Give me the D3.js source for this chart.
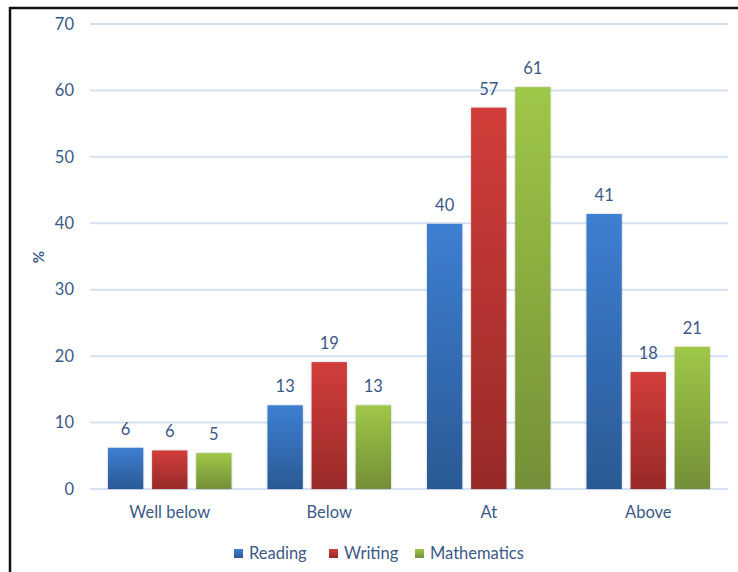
<!DOCTYPE html>
<html>
<head>
<meta charset="utf-8">
<script src="https://cdn.jsdelivr.net/npm/d3@7"></script>
<style>
  html, body { margin: 0; padding: 0; background: #fff; }
  svg { display: block; }
</style>
</head>
<body>
<svg id="chart" width="738" height="572"></svg>
<script>
// Achievement bands and the share of students (%) in each, by subject
const categories = ["Well below", "Below", "At", "Above"];
const series = ["Reading", "Writing", "Mathematics"];
const reading = [6.2, 12.6, 39.9, 41.4];
const writing = [5.8, 19.1, 57.4, 17.6];
const mathematics = [5.4, 12.6, 60.5, 21.4];
const yTicks = [0, 10, 20, 30, 40, 50, 60, 70];

const values = [reading, writing, mathematics];
const colors = {
  Reading: ["#3d7fd2", "#2b5994"],
  Writing: ["#d23d3a", "#982a28"],
  Mathematics: ["#9fc747", "#738f37"]
};
const textColor = "#3a5a86";
const font = "Lato, 'Open Sans', sans-serif";
const fontSize = "16.5px";

const svg = d3.select("#chart");
const defs = svg.append("defs");
series.forEach((s, i) => {
  const g = defs.append("linearGradient")
    .attr("id", "grad" + i).attr("x1", 0).attr("y1", 0).attr("x2", 0).attr("y2", 1);
  g.append("stop").attr("offset", "0%").attr("stop-color", colors[s][0]);
  g.append("stop").attr("offset", "100%").attr("stop-color", colors[s][1]);
});
const shadow = defs.append("filter").attr("id", "shadow")
  .attr("x", "-20%").attr("y", "-5%").attr("width", "140%").attr("height", "110%");
shadow.append("feDropShadow").attr("dx", 0).attr("dy", 0).attr("stdDeviation", 1.2)
  .attr("flood-color", "#000").attr("flood-opacity", 0.25);

// outer frame
svg.append("path")
  .attr("d", "M10,572 V8 H738")
  .attr("fill", "none").attr("stroke", "#111").attr("stroke-width", 2.5);

const plot = { left: 90, right: 728, top: 24, bottom: 489 };

const x = d3.scaleBand().domain(categories).range([plot.left, plot.right]).paddingInner(0).paddingOuter(0);
const y = d3.scaleLinear().domain([0, 70]).range([plot.bottom, plot.top]);
const xs = d3.scaleBand().domain(series).range([18, x.bandwidth() - 18]).paddingInner(0.2);

// gridlines
svg.append("g").selectAll("line").data(yTicks).join("line")
  .attr("x1", plot.left).attr("x2", plot.right)
  .attr("y1", d => y(d)).attr("y2", d => y(d))
  .attr("stroke", "#d5e2f2").attr("stroke-width", 2);

// y axis labels
const yAxis = svg.append("g")
  .attr("transform", `translate(${plot.left},0)`)
  .call(d3.axisLeft(y).tickValues(yTicks).tickSize(0).tickPadding(16));
yAxis.select(".domain").remove();
yAxis.selectAll("text").attr("fill", textColor).style("font-family", font).style("font-size", fontSize);

svg.append("text")
  .attr("transform", "translate(44,257) rotate(-90)")
  .attr("text-anchor", "middle")
  .attr("fill", textColor).style("font-family", font).style("font-size", "15px").style("font-weight", "bold")
  .text("%");

// x axis labels
const xAxis = svg.append("g")
  .attr("transform", `translate(0,${plot.bottom})`)
  .call(d3.axisBottom(x).tickSize(0).tickPadding(17));
xAxis.select(".domain").remove();
xAxis.selectAll("text").attr("fill", textColor).style("font-family", font).style("font-size", fontSize);

// bars
const fmt = d3.format(".0f");
const groups = svg.append("g").selectAll("g").data(categories).join("g")
  .attr("transform", d => `translate(${x(d)},0)`);
groups.each(function(cat, ci) {
  const g = d3.select(this);
  series.forEach((s, si) => {
    const v = values[si][ci];
    g.append("rect")
      .attr("x", xs(s)).attr("width", xs.bandwidth())
      .attr("y", y(v)).attr("height", y(0) - y(v))
      .attr("fill", `url(#grad${si})`)
      .attr("filter", "url(#shadow)");
    g.append("text")
      .attr("x", xs(s) + xs.bandwidth() / 2)
      .attr("y", y(v) - 13)
      .attr("text-anchor", "middle")
      .attr("fill", textColor).style("font-family", font).style("font-size", fontSize)
      .text(fmt(v));
  });
});

// legend
const legendItems = [
  { name: "Reading", x: 234 },
  { name: "Writing", x: 329 },
  { name: "Mathematics", x: 415 }
];
const legend = svg.append("g").selectAll("g").data(legendItems).join("g")
  .attr("transform", d => `translate(${d.x},549)`);
legend.append("rect").attr("width", 9).attr("height", 9)
  .attr("fill", (d, i) => `url(#grad${i})`);
legend.append("text").attr("x", 15).attr("y", 9.5)
  .attr("fill", textColor).style("font-family", font).style("font-size", fontSize)
  .text(d => d.name);
</script>
</body>
</html>
